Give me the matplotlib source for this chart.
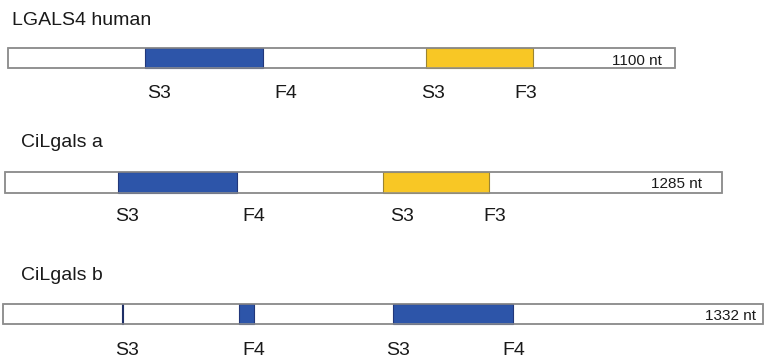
import matplotlib
matplotlib.use("Agg")
import matplotlib.pyplot as plt

plt.rcParams["font.family"] = ["Liberation Sans", "DejaVu Sans"]

# Transcript names and lengths (nt)
names = ["LGALS4 human", "CiLgals a", "CiLgals b"]
lengths = [1100, 1285, 1332]

# Domain segments per transcript: (start nt, end nt, kind)
segments = [
    [(226, 421, "blue"), (690, 865, "yellow")],
    [(203, 416, "blue"), (677, 867, "yellow")],
    [(208, 211, "line"), (414, 440, "blue"), (683, 894, "blue")],
]

# Boundary labels per transcript: (text, nt position)
labels = [
    [("S3", 226), ("F4", 421), ("S3", 690), ("F3", 865)],
    [("S3", 203), ("F4", 416), ("S3", 677), ("F3", 867)],
    [("S3", 209), ("F4", 440), ("S3", 683), ("F4", 894)],
]

# Layout in pixels
W, H = 765, 360
bar_px = [(8, 675, 48, 68), (5, 722, 172, 193), (3, 763, 304, 324)]
title_px = [(12, 25), (21, 147), (21, 280)]
label_drop = [30, 28, 31]
label_dx = [[14, 23, 7, -7], [9, 17, 19, 6], [5, 0, 5, 1]]
nt_right = [662, 702, 756]
nt_drop = [3, 5, 4]

face = {"blue": "#2d55a9", "yellow": "#f8c725", "line": "#1e2f66"}
edge = {"blue": "#22377a", "yellow": "#9a8434", "line": "#1e2f66"}

fig = plt.figure(figsize=(W / 100, H / 100), dpi=100)

for i in range(3):
    x0, x1, y0, y1 = bar_px[i]
    ax = fig.add_axes([x0 / W, 1 - y1 / H, (x1 - x0) / W, (y1 - y0) / H])
    ax.set_xlim(0, lengths[i])
    ax.set_ylim(0, 1)
    ax.axis("off")

    ax.barh(0.5, lengths[i], left=0, height=1, facecolor="white",
            edgecolor="#8e8e8e", linewidth=1.1, clip_on=False, zorder=1)
    for s, e, kind in segments[i]:
        ax.barh(0.5, e - s, left=s, height=1, facecolor=face[kind],
                edgecolor=edge[kind], linewidth=0.8, clip_on=False, zorder=2)
    # outline drawn again above the domains
    ax.barh(0.5, lengths[i], left=0, height=1, facecolor="none",
            edgecolor="#8e8e8e", linewidth=1.1, clip_on=False, zorder=3)

    for (txt, pos), dx in zip(labels[i], label_dx[i]):
        ax.annotate(txt, xy=(pos, 0), xycoords=("data", "axes fraction"),
                    xytext=(dx, -label_drop[i]), textcoords="offset pixels",
                    ha="center", va="baseline", fontsize=14, color="#1a1a1a")

    ax.annotate(f"{lengths[i]} nt", xy=(0, 0), xycoords="axes fraction",
                xytext=(nt_right[i] - x0, nt_drop[i]), textcoords="offset pixels",
                ha="right", va="baseline", fontsize=11, color="#1a1a1a")

    tx, ty = title_px[i]
    fig.text(tx / W, 1 - ty / H, names[i], ha="left", va="baseline",
             fontsize=14, color="#1a1a1a")

fig.savefig("out.png", dpi=100, facecolor="white")
